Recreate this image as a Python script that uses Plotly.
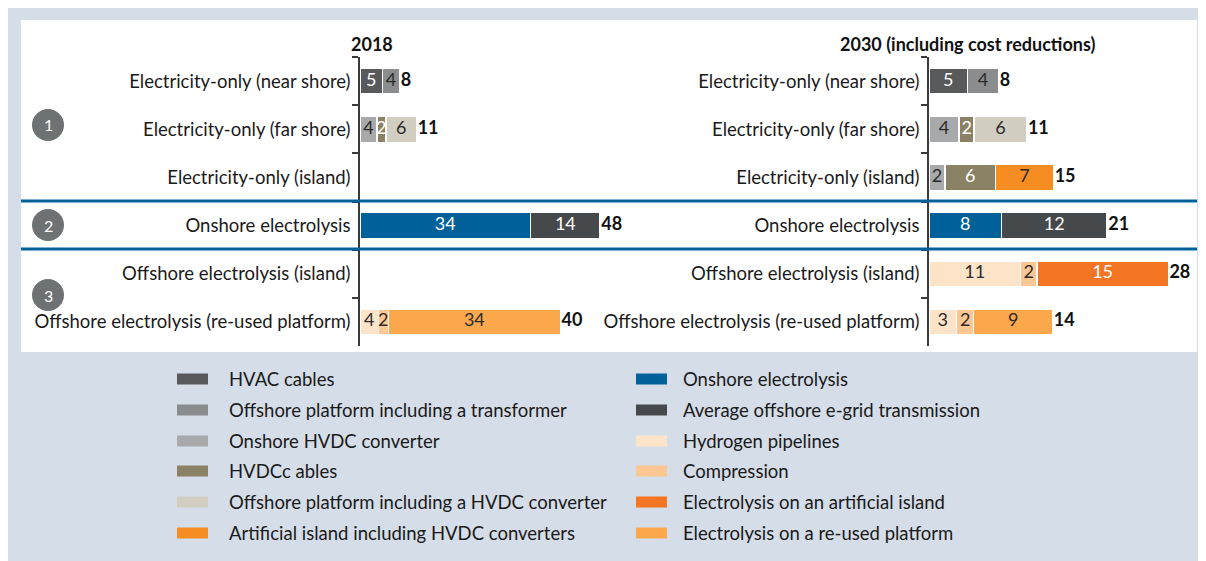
import plotly.graph_objects as go

# page body adds an 8px margin; the figure is sized and positioned to compensate
OX, OY = 8, 8
W, H = 1206 - OX, 561 - OY
FONT = "Lato"

categories = [
    "Electricity-only (near shore)",
    "Electricity-only (far shore)",
    "Electricity-only (island)",
    "Onshore electrolysis",
    "Offshore electrolysis (island)",
    "Offshore electrolysis (re-used platform)",
]

series_names = [
    "HVAC cables",
    "Offshore platform including a transformer",
    "Onshore HVDC converter",
    "HVDCc ables",
    "Offshore platform including a HVDC converter",
    "Artificial island including HVDC converters",
    "Onshore electrolysis",
    "Average offshore e-grid transmission",
    "Hydrogen pipelines",
    "Compression",
    "Electrolysis on an artificial island",
    "Electrolysis on a re-used platform",
]
series_colors = [
    "#58595b", "#8a8c8e", "#a7a9ab", "#8b8265", "#d1cdc1", "#f58d23",
    "#00609a", "#46494b", "#fde3c7", "#fdc793", "#f47523", "#fba74c",
]
series_text_colors = [
    "#ffffff", "#2b2b2b", "#2b2b2b", "#ffffff", "#2b2b2b", "#2b2b2b",
    "#ffffff", "#ffffff", "#2b2b2b", "#2b2b2b", "#ffffff", "#2b2b2b",
]

N = None
# values per series, per category (2018)
values_2018 = [
    [4.5, N, N, N, N, N],
    [3.5, N, N, N, N, N],
    [N, 3.4, N, N, N, N],
    [N, 1.8, N, N, N, N],
    [N, 6.2, N, N, N, N],
    [N, N, N, N, N, N],
    [N, N, N, 34.4, N, N],
    [N, N, N, 14.0, N, N],
    [N, N, N, N, N, 3.7],
    [N, N, N, N, N, 2.0],
    [N, N, N, N, N, N],
    [N, N, N, N, N, 34.7],
]
labels_2018 = [
    ["5", "", "", "", "", ""],
    ["4", "", "", "", "", ""],
    ["", "4", "", "", "", ""],
    ["", "2", "", "", "", ""],
    ["", "6", "", "", "", ""],
    ["", "", "", "", "", ""],
    ["", "", "", "34", "", ""],
    ["", "", "", "14", "", ""],
    ["", "", "", "", "", "4"],
    ["", "", "", "", "", "2"],
    ["", "", "", "", "", ""],
    ["", "", "", "", "", "34"],
]
totals_2018 = ["8", "11", "", "48", "", "40"]

# values per series, per category (2030)
values_2030 = [
    [4.5, N, N, N, N, N],
    [3.7, N, N, N, N, N],
    [N, 3.55, 1.9, N, N, N],
    [N, 1.75, 5.9, N, N, N],
    [N, 6.2, N, N, N, N],
    [N, N, 6.85, N, N, N],
    [N, N, N, 8.5, N, N],
    [N, N, N, 12.45, N, N],
    [N, N, N, N, 10.75, 3.25],
    [N, N, N, N, 1.95, 2.0],
    [N, N, N, N, 15.45, N],
    [N, N, N, N, N, 9.3],
]
labels_2030 = [
    ["5", "", "", "", "", ""],
    ["4", "", "", "", "", ""],
    ["", "4", "2", "", "", ""],
    ["", "2", "6", "", "", ""],
    ["", "6", "", "", "", ""],
    ["", "", "7", "", "", ""],
    ["", "", "", "8", "", ""],
    ["", "", "", "12", "", ""],
    ["", "", "", "", "11", "3"],
    ["", "", "", "", "2", "2"],
    ["", "", "", "", "15", ""],
    ["", "", "", "", "", "9"],
]
totals_2030 = ["8", "11", "15", "21", "28", "14"]

panel_titles = ["2018", "2030 (including cost reductions)"]
group_numbers = ["1", "2", "3"]


def px(x):
    return (x - OX) / W


def py(y):
    return 1 - (y - OY) / H


fig = go.Figure()

panels = [
    ("x", "y", values_2018, labels_2018, totals_2018),
    ("x2", "y2", values_2030, labels_2030, totals_2030),
]

for xa, ya, vals, labs, tots in panels:
    cum = [0.0] * len(categories)
    mid_x, mid_y, mid_t, mid_c = [], [], [], []
    for s, name in enumerate(series_names):
        v = vals[s]
        fig.add_trace(go.Bar(
            x=v, y=categories, orientation="h", name=name,
            marker=dict(color=series_colors[s], line=dict(color="white", width=1.5)),
            xaxis=xa, yaxis=ya, showlegend=False, hoverinfo="skip",
        ))
        for i, val in enumerate(v):
            if val is not None:
                mid_x.append(cum[i] + val / 2)
                mid_y.append(categories[i])
                mid_t.append(labs[s][i])
                mid_c.append(series_text_colors[s])
                cum[i] += val
    fig.add_trace(go.Scatter(
        x=mid_x, y=mid_y, text=mid_t, mode="text", xaxis=xa, yaxis=ya,
        textfont=dict(family=FONT, size=18, color=mid_c),
        showlegend=False, hoverinfo="skip",
    ))
    fig.add_trace(go.Scatter(
        x=cum, y=categories, text=["\u200a<b>%s</b>" % t if t else "" for t in tots], mode="text",
        textposition="middle right", xaxis=xa, yaxis=ya,
        textfont=dict(family=FONT, size=18, color="#111111"),
        showlegend=False, hoverinfo="skip",
    ))

y_top, y_bot = 57, 346
ydom = [py(y_bot), py(y_top)]
yaxis_common = dict(
    type="category", categoryorder="array", categoryarray=categories,
    range=[len(categories) - 0.5, -0.5], domain=ydom,
    showline=True, linecolor="#3a3a3a", linewidth=1.5,
    ticks="outside", tickson="boundaries", ticklen=6, tickcolor="#3a3a3a",
    tickwidth=1.5, showgrid=False, zeroline=False, ticklabelstandoff=4,
    tickfont=dict(family=FONT, size=18.5, color="#1a1a1a"), fixedrange=True,
)

s1, s2 = 4.96, 8.5
x1a, x1b = 360, 660
x2a, x2b = 929, 1197

fig.update_layout(
    width=W, height=H,
    margin=dict(l=0, r=0, t=0, b=0),
    paper_bgcolor="#d5dde8", plot_bgcolor="rgba(0,0,0,0)",
    barmode="stack", bargap=0.46,
    font=dict(family=FONT, color="#1a1a1a"),
    xaxis=dict(domain=[px(x1a), px(x1b)], range=[0, (x1b - x1a) / s1], visible=False, fixedrange=True),
    xaxis2=dict(domain=[px(x2a), px(x2b)], range=[0, (x2b - x2a) / s2], visible=False, fixedrange=True),
    yaxis=dict(anchor="x", **yaxis_common),
    yaxis2=dict(anchor="x2", **yaxis_common),
)

shapes = [
    dict(type="rect", xref="paper", yref="paper", x0=px(21), x1=px(1197), y0=py(352), y1=py(20),
         fillcolor="#ffffff", line=dict(width=0), layer="below"),
]
for yy in (201, 249):
    shapes.append(dict(type="line", xref="paper", yref="paper", x0=px(21), x1=px(1197),
                       y0=py(yy), y1=py(yy), line=dict(color="#00609a", width=3), layer="above"))

annotations = []
for num, cy in zip(group_numbers, (125, 225, 295)):
    shapes.append(dict(type="circle", xref="paper", yref="paper",
                       x0=px(48 - 16), x1=px(48 + 16), y0=py(cy + 16), y1=py(cy - 16),
                       fillcolor="#6f7272", line=dict(width=0), layer="above"))
    annotations.append(dict(text=num, x=px(48), y=py(cy), xref="paper", yref="paper",
                            showarrow=False, font=dict(family=FONT, size=16, color="#ffffff"),
                            xanchor="center", yanchor="middle"))

for title, cx in zip(panel_titles, (372, 967)):
    annotations.append(dict(text="<b>%s</b>" % title, x=px(cx), y=py(44), xref="paper", yref="paper",
                            showarrow=False, font=dict(family=FONT, size=18, color="#111111"),
                            xanchor="center", yanchor="middle"))

# manual legend (two columns, six rows)
row_y = [379, 410, 441, 471, 502, 533]
for s, name in enumerate(series_names):
    col, row = divmod(s, 6)
    sx0 = 177 if col == 0 else 636
    tx = 227 if col == 0 else 681
    yy = row_y[row]
    shapes.append(dict(type="rect", xref="paper", yref="paper",
                       x0=px(sx0), x1=px(sx0 + 31), y0=py(yy + 5.5), y1=py(yy - 5.5),
                       fillcolor=series_colors[s], line=dict(width=0)))
    annotations.append(dict(text=name, x=px(tx), y=py(yy), xref="paper", yref="paper",
                            showarrow=False, font=dict(family=FONT, size=18.5, color="#1a1a1a"),
                            xanchor="left", yanchor="middle"))

fig.update_layout(shapes=shapes, annotations=annotations)
fig.write_html("out.html")
